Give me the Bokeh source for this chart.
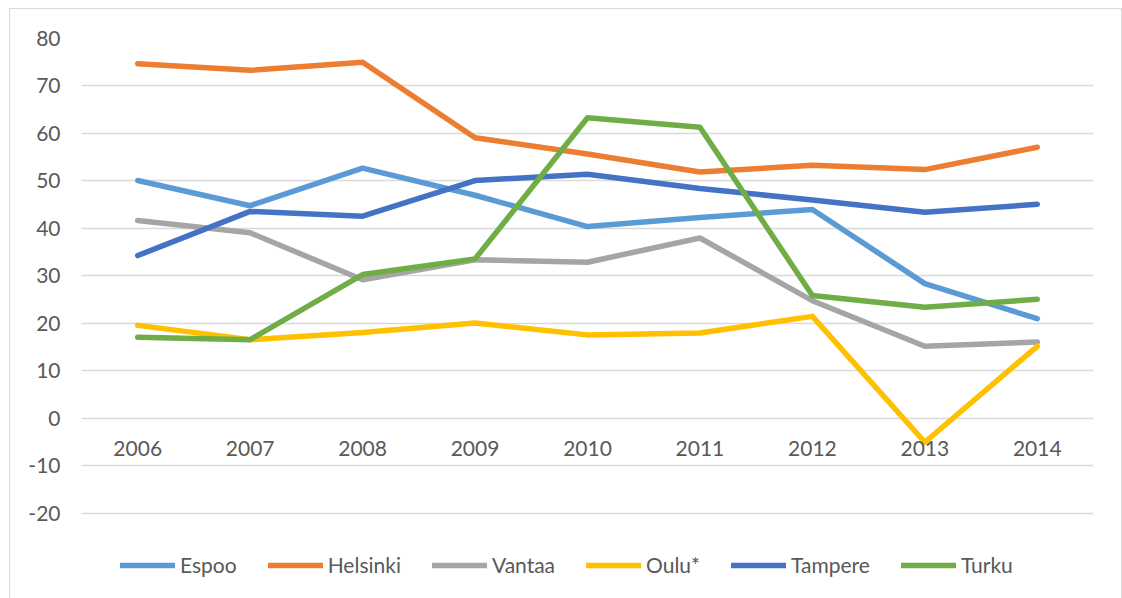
from bokeh.plotting import figure
from bokeh.models import Range1d, FactorRange, FixedTicker, Legend, LegendItem, InlineStyleSheet
from bokeh.embed import file_html
from bokeh.resources import INLINE

years = ["2006", "2007", "2008", "2009", "2010", "2011", "2012", "2013", "2014"]
espoo = [50.1, 44.8, 52.7, 47.0, 40.4, 42.3, 44.0, 28.4, 21.0]
helsinki = [74.7, 73.3, 75.0, 59.1, 55.7, 51.9, 53.3, 52.4, 57.1]
vantaa = [41.7, 39.1, 29.2, 33.4, 32.9, 38.0, 24.8, 15.2, 16.1]
oulu = [19.6, 16.6, 18.1, 20.1, 17.6, 18.0, 21.5, -5.0, 15.2]
tampere = [34.3, 43.6, 42.6, 50.1, 51.4, 48.4, 46.0, 43.4, 45.1]
turku = [17.1, 16.6, 30.3, 33.6, 63.3, 61.3, 25.9, 23.4, 25.1]
y_ticks = [-20, -10, 0, 10, 20, 30, 40, 50, 60, 70, 80]

series = [
    ("Espoo", espoo, "#5B9BD5"),
    ("Helsinki", helsinki, "#ED7D31"),
    ("Vantaa", vantaa, "#A5A5A5"),
    ("Oulu*", oulu, "#FFC000"),
    ("Tampere", tampere, "#4472C4"),
    ("Turku", turku, "#70AD47"),
]

FONT = "Lato"
TXT = "#595959"

# frame runs to the bottom of the figure so the legend can sit inside it
p = figure(width=1122, height=598, x_range=FactorRange(*years), y_range=Range1d(-37.9, 80),
           output_backend="svg", toolbar_location=None,
           min_border_left=81, min_border_right=29, min_border_top=38, min_border_bottom=0)
p.outline_line_color = None
p.stylesheets = [InlineStyleSheet(css="""
:host { position: relative; }
:host::after {
  content: ""; position: absolute; left: 9px; top: 8px; right: 0px; bottom: 0px;
  border: 1.5px solid #d9d9d9; border-bottom: none; pointer-events: none; z-index: 100;
}
""")]

p.xgrid.grid_line_color = None
p.ygrid.grid_line_color = "#d9d9d9"
p.ygrid.grid_line_width = 1.3

p.yaxis.ticker = FixedTicker(ticks=y_ticks)
p.yaxis.major_label_overrides = {t: str(t) for t in y_ticks}
for ax in (p.xaxis[0], p.yaxis[0]):
    ax.axis_line_color = None
    ax.major_tick_line_color = None
    ax.minor_tick_line_color = None
    ax.major_tick_out = 0
    ax.major_tick_in = 0
    ax.major_label_text_font = FONT
    ax.major_label_text_font_size = "21px"
    ax.major_label_text_color = TXT
p.yaxis.major_label_standoff = 21
p.xaxis.fixed_location = 0
p.xaxis.major_label_standoff = 23

items = []
for name, vals, col in series:
    r = p.line(years, vals, line_color=col, line_width=5.5, line_cap="round", line_join="round")
    items.append(LegendItem(label=name, renderers=[r]))

legend = Legend(items=items, orientation="horizontal", location=(39, 21),
                glyph_width=55, glyph_height=24, label_height=24, label_standoff=5,
                spacing=31, padding=0, margin=0,
                label_text_font=FONT, label_text_font_size="21px", label_text_color=TXT,
                border_line_color=None, background_fill_alpha=0)
p.add_layout(legend, "center")

open("out.html", "w").write(file_html(p, INLINE))
